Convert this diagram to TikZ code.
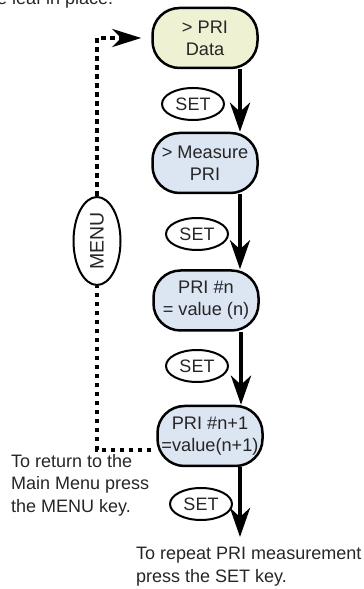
\documentclass[tikz,border=0pt]{standalone}
\usepackage{fontspec}
\setmainfont{Liberation Sans}
\usetikzlibrary{arrows.meta,shapes.geometric}
\definecolor{datagreen}{RGB}{238,242,210}
\definecolor{stepblue}{RGB}{220,230,242}

\begin{document}
\begin{tikzpicture}[
    x=1pt, y=1pt,
    node distance=130pt,
    box/.style={rectangle, draw, line width=2.5pt, rounded corners=27pt, minimum width=105pt, minimum height=60pt, inner sep=0pt, align=center, text=black!85, font=\fontsize{18.2}{22}\selectfont},
    key/.style={ellipse, draw, line width=2pt, minimum width=62pt, minimum height=32pt, inner sep=0pt, text=black!85, font=\fontsize{18}{20}\selectfont},
    note/.style={align=left, inner sep=0pt, text=black!85, font=\fontsize{18}{22.5}\selectfont},
    arrow/.style={line width=4.5pt, -{Stealth[length=29pt, width=20pt, inset=9pt]}},
    dots/.style={line width=4.5pt, dash pattern=on 4.5pt off 4.5pt}
]

\clip (0,0) rectangle (364,589);

% Nodes
\node[box, fill=datagreen] (pri) at (205,551) {> PRI\\Data};
\node[box, fill=stepblue, below of=pri, yshift=5pt] (meas) {> Measure\\PRI};
\node[box, fill=stepblue, below of=meas, yshift=-7.5pt, xshift=1pt] (val) {PRI \#n\\= value (n)};
\node[box, fill=stepblue, below of=val, yshift=-5.5pt, xshift=4pt] (valnext) {PRI \#n+1\\=value(n+1)};

% Keys
\node[key] (set1) at (193,485) {SET};
\node[key] (set2) at (197,355) {SET};
\node[key] (set3) at (197,223) {SET};
\node[key] (set4) at (201,85) {SET};
\node[key, minimum width=47pt, minimum height=88pt, font=\fontsize{19.5}{20}\selectfont] (menu) at (97,348) {\rotatebox{90}{MENU}};

% Arrows
\coordinate (again) at (240,52);
\draw[arrow] ([xshift=35pt]pri.south) -- ([xshift=35pt]pri.south |- meas.north);
\draw[arrow] ([xshift=35pt]meas.south) -- ([xshift=35pt]meas.south |- val.north);
\draw[arrow] ([xshift=35pt]val.south) -- ([xshift=35pt]val.south |- valnext.north);
\draw[arrow] (valnext.south -| again) -- (again);

% Back to menu
\draw[dots] ([xshift=-5pt, yshift=-14pt]valnext.west) -| (menu.south);
\draw[dots, -{Stealth[length=29pt, width=18pt, inset=9pt]}] (menu.north) |- ([xshift=-10pt]pri.west);

% Notes
\node[anchor=base west, inner sep=0pt, text=black!85, font=\fontsize{18}{20}\selectfont] (cut) at (-3,584) {e leaf in place.};
\node[note, anchor=west] (menunote) at (11,104) {To return to the\\Main Menu press\\the MENU key.};
\node[note, anchor=west] (setnote) at (136,22.5) {To repeat PRI measurement\\press the SET key.};

\end{tikzpicture}
\end{document}
